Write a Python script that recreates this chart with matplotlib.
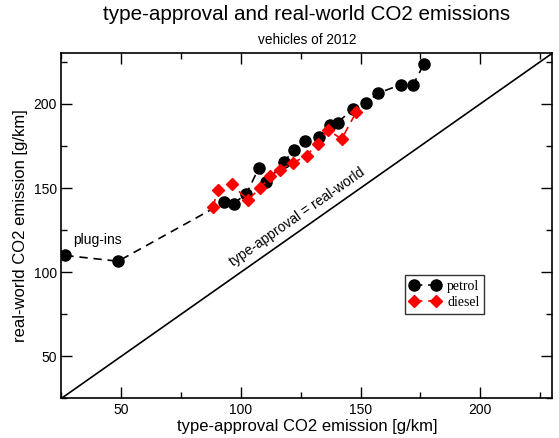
import matplotlib
matplotlib.use("Agg")
import matplotlib.pyplot as plt
from matplotlib.ticker import MultipleLocator

petrol_x = [26.6, 48.7, 92.9, 96.9, 102.3, 107.4, 110.6, 118.0, 122.1, 126.9, 132.8,
            137.3, 140.4, 146.8, 152.4, 157.1, 167.0, 171.8, 176.6]
petrol_y = [109.9, 106.5, 141.4, 140.8, 146.6, 161.7, 153.7, 165.5, 172.8, 177.7, 180.4,
            187.3, 188.9, 197.0, 200.4, 206.3, 211.5, 211.1, 224.0]
diesel_x = [88.3, 90.3, 96.2, 102.8, 108.0, 112.2, 116.2, 121.7, 127.4, 132.0, 136.3, 142.1, 148.2]
diesel_y = [138.7, 148.6, 152.1, 143.0, 149.8, 156.9, 160.9, 164.9, 169.2, 176.4, 184.5, 179.2, 195.2]
diag = [25, 230]

plt.rcParams['font.family'] = ['Liberation Sans', 'DejaVu Sans']

fig = plt.figure(figsize=(5.59, 4.38), dpi=100)
ax = fig.add_axes([0.110, 0.0906, 0.8775, 0.7874])

ax.plot(diag, diag, color='black', lw=1.2, zorder=1)
ax.plot(petrol_x, petrol_y, color='black', ls=(0, (5, 3.5)), lw=1.2, marker='o',
        markersize=8, markerfacecolor='black', markeredgecolor='black', label='petrol', zorder=3)
ax.plot(diesel_x, diesel_y, color='red', ls=(0, (5, 3.5)), lw=1.2, marker='D',
        markersize=6.5, markerfacecolor='red', markeredgecolor='red', label='diesel', zorder=4)

ax.set_xlim(25, 230)
ax.set_ylim(25, 230)
ax.xaxis.set_major_locator(MultipleLocator(50))
ax.xaxis.set_minor_locator(MultipleLocator(25))
ax.yaxis.set_major_locator(MultipleLocator(50))
ax.yaxis.set_minor_locator(MultipleLocator(25))
ax.tick_params(which='both', direction='in', top=True, right=True, labelsize=10)
ax.tick_params(which='major', length=8, width=1)
ax.tick_params(which='minor', length=4, width=1)
for s in ax.spines.values():
    s.set_linewidth(1.2)

ax.set_xlabel('type-approval CO2 emission [g/km]', fontsize=12, labelpad=1)
ax.set_ylabel('real-world CO2 emission [g/km]', fontsize=12, labelpad=4)

ax.text(29.8, 119.2, 'plug-ins', fontsize=10, ha='left', va='center')
ax.text(123.4, 133, 'type-approval = real-world', fontsize=10, rotation=34.9,
        rotation_mode='anchor', ha='center', va='center')

leg = ax.legend(loc='upper left', bbox_to_anchor=(0.7, 0.358), frameon=True, fancybox=False,
                edgecolor='black', prop={'family': 'Liberation Serif', 'size': 10},
                numpoints=2, handlelength=2.2, handletextpad=0.5, borderpad=0.35,
                labelspacing=0.25, borderaxespad=0)
leg.get_frame().set_linewidth(1.0)

cx = 0.110 + 0.8775 / 2
fig.text(cx, 0.966, 'type-approval and real-world CO2 emissions', fontsize=14.9,
         ha='center', va='center')
fig.text(cx, 0.908, 'vehicles of 2012', fontsize=9.8, ha='center', va='center')

fig.savefig('out.png', dpi=100)
